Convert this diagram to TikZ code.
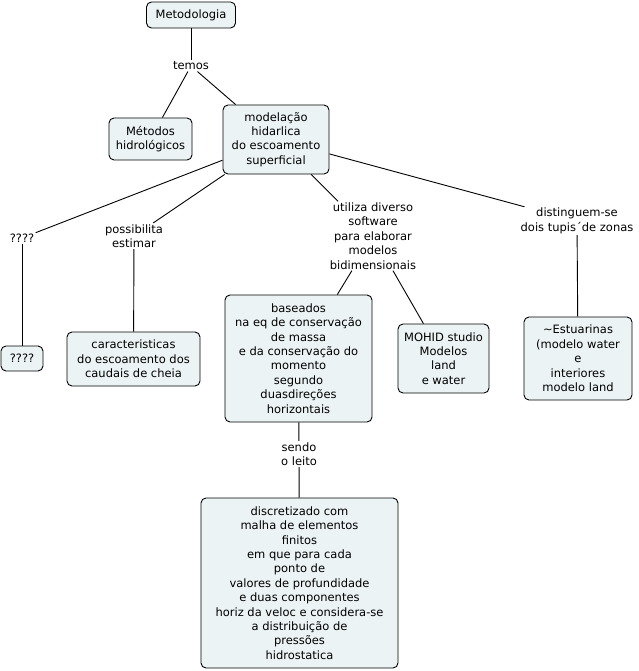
\documentclass[tikz,border=0pt]{standalone}
\usepackage{fontspec}
\setmainfont{DejaVu Sans}
\usetikzlibrary{positioning}
\definecolor{conceptfill}{RGB}{236,243,245}

\begin{document}
\begin{tikzpicture}[x=1pt,y=-1pt,font=\fontsize{11.5}{14.4}\selectfont,line width=0.9pt,
 concept/.style={draw,rounded corners=5pt,fill=conceptfill,align=center,inner sep=0pt},
 phrase/.style={align=center,inner sep=1pt,fill=white}]
\useasboundingbox (0,0) rectangle (638,671);
\node[concept,minimum width=89,minimum height=26] (meto) at (191,15) {Metodologia};
\node[phrase] (temos) at (191,66) {temos};
\node[concept,minimum width=83,minimum height=42] (hidro) at (150.5,139) {Métodos\\hidrológicos};
\node[concept,minimum width=106,minimum height=69] (model) at (276,139.5) {modelação\\hidarlica\\do escoamento\\superficial};
\node[phrase] (q1) at (22,238) {????};
\node[phrase] (possib) at (134,236) {possibilita\\estimar};
\node[phrase] (utiliza) at (373,236) {utiliza diverso\\software\\para elaborar\\modelos\\bidimensionais};
\node[phrase] (disting) at (577,221) {distinguem-se\\dois tupis´de zonas};
\node[concept,minimum width=42,minimum height=25] (q2) at (22,358.5) {????};
\node[concept,minimum width=133,minimum height=54] (caract) at (133.5,359) {caracteristicas\\do escoamento dos\\caudais de cheia};
\node[concept,minimum width=147,minimum height=127] (based) at (298.5,358.5) {baseados\\na eq de conservação\\de massa\\e da conservação do\\momento\\segundo\\duasdireções\\horizontais};
\node[concept,minimum width=91,minimum height=69] (mohid) at (443.5,358.5) {MOHID studio\\Modelos\\land\\e water};
\node[concept,minimum width=108,minimum height=83] (estu) at (578,358.5) {\textasciitilde Estuarinas\\(modelo water\\e\\interiores\\modelo land};
\node[phrase] (sendo) at (299,454) {sendo\\o leito};
\node[concept,minimum width=197,minimum height=170] (discr) at (299.5,583) {discretizado com\\malha de elementos\\finitos\\em que para cada\\ponto de\\valores de profundidade\\e duas componentes\\horiz da veloc e considera-se\\a distribuição de\\pressões\\hidrostatica};
% ligacoes
\draw (meto) -- (temos);
\draw (temos) -- (hidro);
\draw (temos) -- (model);
\draw (model) -- (q1);
\draw (model) -- (possib);
\draw (model) -- (utiliza);
\draw (model) -- (disting);
\draw (q1) -- (q2);
\draw (possib) -- (caract);
\draw (utiliza) -- (based);
\draw (utiliza) -- (mohid);
\draw (disting) -- (estu);
\draw (based) -- (sendo);
\draw (sendo) -- (discr);
\end{tikzpicture}
\end{document}
